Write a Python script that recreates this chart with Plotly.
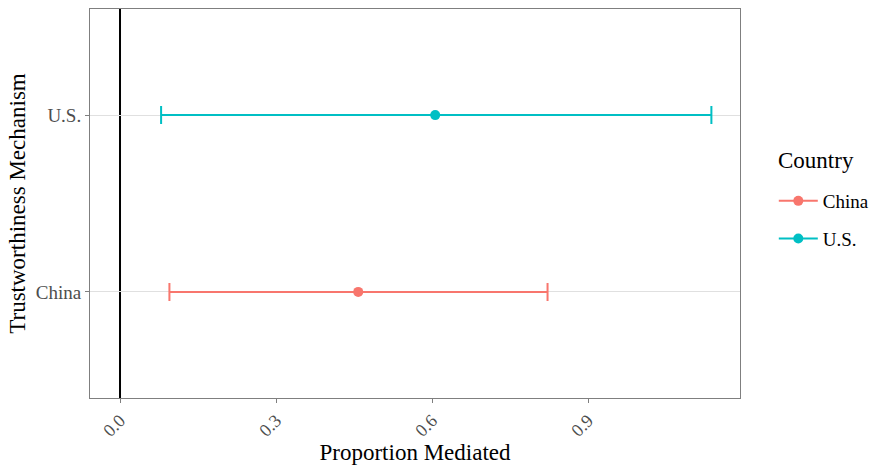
import plotly.graph_objects as go

countries = ["China", "U.S."]
estimates = [0.458, 0.606]
ci_low = [0.095, 0.079]
ci_high = [0.822, 1.137]
colors = ["#F8766D", "#00BFC4"]
x_ticks = [0.0, 0.3, 0.6, 0.9]
x_tick_labels = ["0.0", "0.3", "0.6", "0.9"]

FONT = "Liberation Serif"
fig = go.Figure()
for i, c in enumerate(countries):
    fig.add_trace(go.Scatter(
        x=[estimates[i]], y=[i + 1], mode="lines+markers", name=c,
        legendgroup=c,
        marker=dict(color=colors[i], size=10),
        line=dict(color=colors[i], width=2),
        error_x=dict(type="data", symmetric=False,
                     array=[ci_high[i] - estimates[i]],
                     arrayminus=[estimates[i] - ci_low[i]],
                     color=colors[i], thickness=2, width=9),
    ))

fig.add_shape(type="line", x0=0, x1=0, y0=0, y1=1, xref="x", yref="paper",
              line=dict(color="black", width=2), layer="below")

fig.add_annotation(text="Country", xref="paper", yref="paper",
                   x=1.0554, y=0.6118, xanchor="left", yanchor="middle",
                   showarrow=False, font=dict(size=23, family=FONT, color="black"))

fig.update_layout(
    width=871, height=465,
    margin=dict(l=90, r=131, t=9, b=67, autoexpand=False),
    plot_bgcolor="white", paper_bgcolor="white",
    font=dict(family=FONT, color="black"),
    legend=dict(font=dict(size=19), x=1.052, xanchor="left",
                y=0.4576, yanchor="middle", tracegroupgap=10,
                itemwidth=39),
    showlegend=True,
)
fig.update_xaxes(
    range=[-0.0577, 1.192], tickvals=x_ticks, ticktext=x_tick_labels,
    tickangle=-45, tickfont=dict(size=18, color="#4d4d4d"),
    ticks="outside", ticklen=4, tickcolor="#7f7f7f",
    showgrid=False, zeroline=False, showline=True, mirror=True,
    linecolor="#7f7f7f", linewidth=1,
    title=dict(text="Proportion Mediated", font=dict(size=23), standoff=4),
    automargin=False,
)
fig.update_yaxes(
    range=[0.4, 2.6], tickvals=[1, 2], ticktext=countries,
    tickfont=dict(size=19, color="#4d4d4d"),
    ticks="outside", ticklen=4, tickcolor="#7f7f7f",
    showgrid=True, gridcolor="#e0e0e0", gridwidth=1, zeroline=False,
    showline=True, mirror=True, linecolor="#7f7f7f", linewidth=1,
    title=dict(text="Trustworthiness Mechanism", font=dict(size=23), standoff=3),
    automargin=False,
)
fig.write_html("out.html", config={"displayModeBar": False},
               post_script="document.body.style.margin='0';")
